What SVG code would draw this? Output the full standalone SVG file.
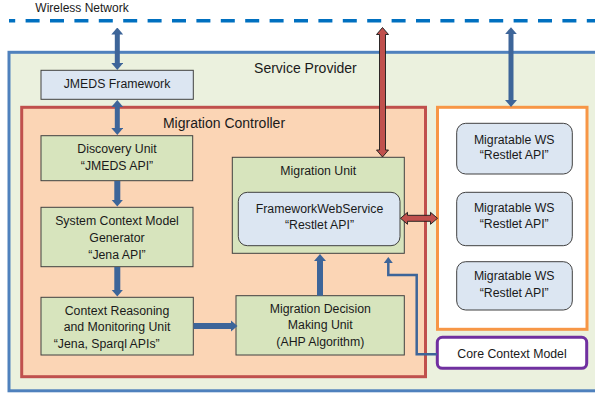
<svg xmlns="http://www.w3.org/2000/svg" width="595" height="393" viewBox="0 0 595 393">
<style>
  text { font-family: "Liberation Sans", Arial, sans-serif; fill: #1a1a1a; text-anchor: middle; }
  .t { font-size: 12.3px; }
  .title { font-size: 14px; }
  .green { fill: #d7e4bd; stroke: #404040; stroke-width: 1; }
  .lblue { fill: #dce6f2; stroke: #404040; stroke-width: 1; }
  .barrow { stroke: #3d6599; fill: none; }
  .rarrow { fill: #c0504d; stroke: #1a1a1a; stroke-width: 0.9; }
</style>
<defs>
  <marker id="ah" markerUnits="userSpaceOnUse" markerWidth="7" markerHeight="12" refX="0.5" refY="6" orient="auto-start-reverse">
    <path d="M0,0 L7,6 L0,12 Z" fill="#3d6599"/>
  </marker>
  <marker id="ahs" markerUnits="userSpaceOnUse" markerWidth="6" markerHeight="9" refX="0.5" refY="4.5" orient="auto-start-reverse">
    <path d="M0,0 L6,4.5 L0,9 Z" fill="#3d6599"/>
  </marker>
</defs>

<g id="wireless-network">
  <text x="82" y="12" style="font-size:12px">Wireless Network</text>
  <line x1="9" y1="20.7" x2="595" y2="20.7" stroke="#0070c0" stroke-width="3.5" stroke-dasharray="14 10.4" stroke-dashoffset="7.8"/>
</g>

<g id="service-provider">
  <rect x="9" y="52.3" width="600" height="338.5" fill="#ebf1de" stroke="#4f81bd" stroke-width="3"/>
  <text class="title" x="305.4" y="72.5">Service Provider</text>
</g>

<g id="jmeds-framework">
  <rect class="lblue" x="41" y="70.3" width="152.3" height="29"/>
  <text class="t" x="117" y="88">JMEDS Framework</text>
</g>

<g id="migration-controller">
  <rect x="21.7" y="107.3" width="403.8" height="269.4" fill="#fbd5b5" stroke="#c0504d" stroke-width="3"/>
  <text class="title" x="224" y="128.3">Migration Controller</text>
</g>

<g id="discovery-unit">
  <rect class="green" x="41" y="135.7" width="151.7" height="45"/>
  <text class="t" x="117" y="153.4">Discovery Unit</text>
  <text class="t" x="117" y="169.6">“JMEDS API”</text>
</g>

<g id="system-context-model-generator">
  <rect class="green" x="41" y="207.3" width="152" height="59.4"/>
  <text class="t" x="117" y="225.2">System Context Model</text>
  <text class="t" x="117" y="241.5">Generator</text>
  <text class="t" x="117" y="258.5">“Jena API”</text>
</g>

<g id="context-reasoning-unit">
  <rect class="green" x="41" y="297.3" width="152.3" height="57.7"/>
  <text class="t" x="117" y="315">Context Reasoning</text>
  <text class="t" x="117" y="331">and Monitoring Unit</text>
  <text class="t" x="106.7" y="347.6">“Jena, Sparql APIs”</text>
</g>

<g id="migration-decision-unit">
  <rect class="green" x="236" y="295.7" width="168.3" height="59.3"/>
  <text class="t" x="320.3" y="313.3">Migration Decision</text>
  <text class="t" x="320.3" y="329.3">Making Unit</text>
  <text class="t" x="320.3" y="346">(AHP Algorithm)</text>
</g>

<g id="migration-unit">
  <rect class="green" x="232.3" y="157.3" width="172" height="96"/>
  <text class="t" x="318.3" y="175.3">Migration Unit</text>
</g>

<g id="framework-web-service">
  <rect class="lblue" x="238.3" y="192.3" width="161.7" height="53.4" rx="9" ry="9"/>
  <text class="t" x="319.5" y="213.3">FrameworkWebService</text>
  <text class="t" x="319.5" y="228.6">“Restlet API”</text>
</g>

<g id="migratable-ws-container">
  <rect x="437.5" y="107.3" width="149.5" height="222" fill="#ffffff" stroke="#f79646" stroke-width="3"/>
</g>

<g id="migratable-ws-1">
  <rect class="lblue" x="456.7" y="123.3" width="115.6" height="50.7" rx="9" ry="9"/>
  <text class="t" x="514.2" y="144.3">Migratable WS</text>
  <text class="t" x="514.2" y="159.3">“Restlet API”</text>
</g>

<g id="migratable-ws-2">
  <rect class="lblue" x="456.7" y="192.3" width="115.6" height="53.4" rx="9" ry="9"/>
  <text class="t" x="514.2" y="212">Migratable WS</text>
  <text class="t" x="514.2" y="227.6">“Restlet API”</text>
</g>

<g id="migratable-ws-3">
  <rect class="lblue" x="456.7" y="261.7" width="115.6" height="48.3" rx="9" ry="9"/>
  <text class="t" x="514.2" y="280.3">Migratable WS</text>
  <text class="t" x="514.2" y="297">“Restlet API”</text>
</g>

<g id="core-context-model">
  <rect x="437.3" y="337.3" width="149.4" height="31" rx="5" ry="5" fill="#ffffff" stroke="#7030a0" stroke-width="3"/>
  <text class="t" x="512" y="358.3">Core Context Model</text>
</g>

<g id="connectors">
  <line class="barrow" x1="117.3" y1="34" x2="117.3" y2="63.5" stroke-width="5" marker-start="url(#ah)" marker-end="url(#ah)"/>
  <line class="barrow" x1="117.3" y1="106.5" x2="117.3" y2="128.5" stroke-width="5" marker-start="url(#ah)" marker-end="url(#ah)"/>
  <line class="barrow" x1="117.3" y1="181" x2="117.3" y2="200" stroke-width="6" marker-end="url(#ah)"/>
  <line class="barrow" x1="117.3" y1="267" x2="117.3" y2="290" stroke-width="6" marker-end="url(#ah)"/>
  <line class="barrow" x1="193.5" y1="326" x2="231" y2="326" stroke-width="6" marker-end="url(#ah)"/>
  <line class="barrow" x1="320" y1="295.7" x2="320" y2="260.5" stroke-width="6" marker-end="url(#ah)"/>
  <line class="barrow" x1="511" y1="33.7" x2="511" y2="100.5" stroke-width="5" marker-start="url(#ah)" marker-end="url(#ah)"/>
  <polyline class="barrow" points="437,354.3 416.7,354.3 416.7,275 388.3,275 388.3,262.5" stroke-width="2.5" marker-end="url(#ahs)"/>
  <path class="rarrow" d="M382.5,27.5 L388.5,34.5 L385.5,34.5 L385.5,150 L388.5,150 L382.5,157 L376.5,150 L379.5,150 L379.5,34.5 L376.5,34.5 Z"/>
  <path class="rarrow" d="M400.5,218.3 L407.5,212.3 L407.5,215.3 L430.5,215.3 L430.5,212.3 L437.5,218.3 L430.5,224.3 L430.5,221.3 L407.5,221.3 L407.5,224.3 Z"/>
</g>
</svg>
